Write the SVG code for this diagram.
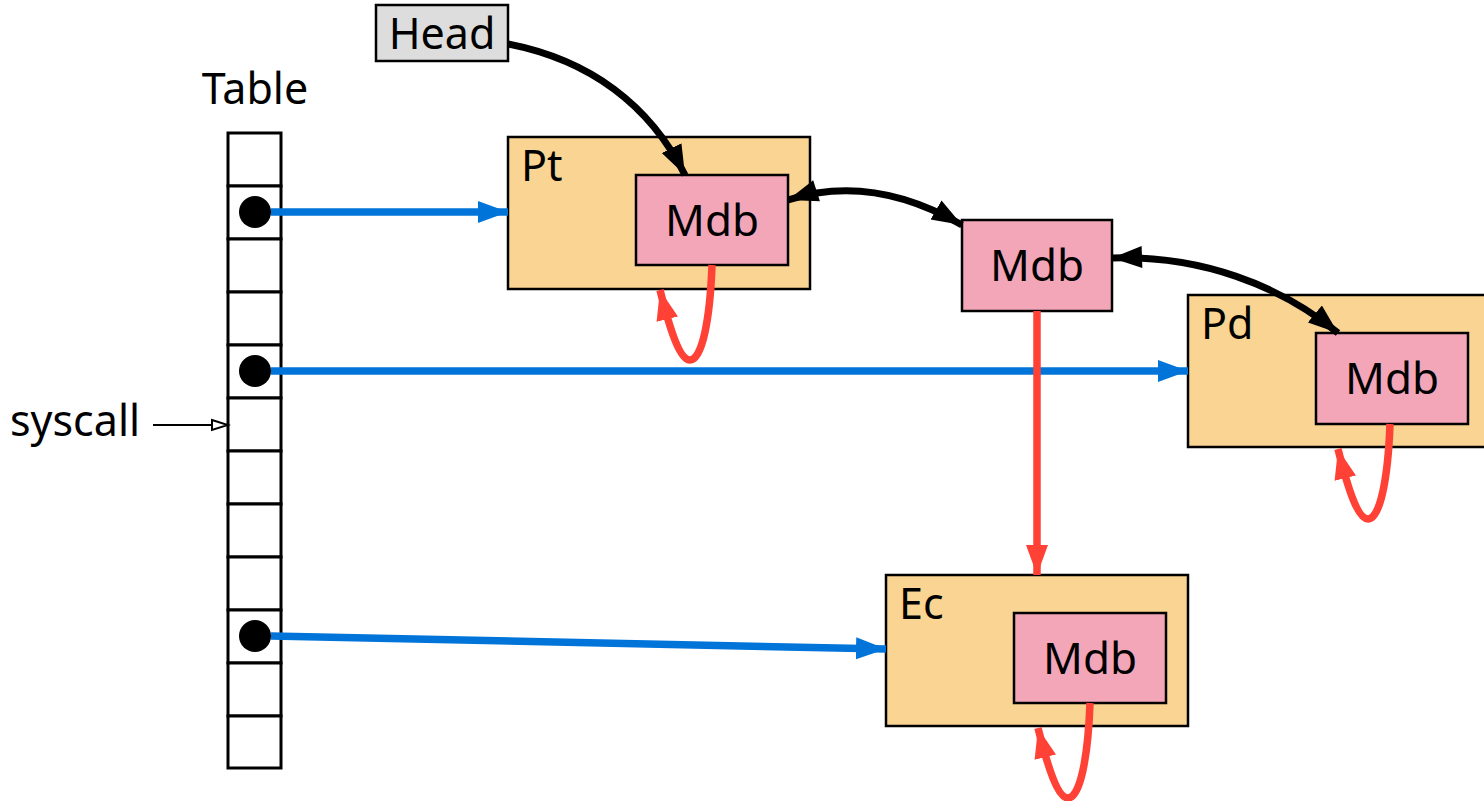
<svg xmlns="http://www.w3.org/2000/svg" width="1484" height="801" viewBox="0 0 1484 801">
<style>
text{font-family:"Noto Sans","Open Sans","DejaVu Sans",sans-serif;fill:#000}
.cell{fill:#fff;stroke:#000;stroke-width:3}
.box{fill:#f9d492;stroke:#000;stroke-width:2.5}
.mdb{fill:#f4a6b9;stroke:#000;stroke-width:2.5}
.lbl{font-size:43px}
.mt{font-size:44px;text-anchor:middle}
.blue{fill:none;stroke:#0074d9;stroke-width:7.5}
.red{fill:none;stroke:#ff4136;stroke-width:7.5}
.blk{fill:none;stroke:#000;stroke-width:7}
</style>
<defs>
<marker id="ab" markerUnits="userSpaceOnUse" markerWidth="32" markerHeight="24" refX="30" refY="12" orient="auto"><path d="M0,1 L30,12 L0,23 Z" fill="#0074d9"/></marker>
<marker id="ar" markerUnits="userSpaceOnUse" markerWidth="32" markerHeight="24" refX="30" refY="12" orient="auto"><path d="M0,1 L30,12 L0,23 Z" fill="#ff4136"/></marker>
<marker id="ak" markerUnits="userSpaceOnUse" markerWidth="32" markerHeight="24" refX="30" refY="12" orient="auto"><path d="M0,1 L30,12 L0,23 Z" fill="#000"/></marker>
<marker id="aks" markerUnits="userSpaceOnUse" markerWidth="32" markerHeight="24" refX="0" refY="12" orient="auto"><path d="M30,1 L0,12 L30,23 Z" fill="#000"/></marker>
<marker id="ao" markerUnits="userSpaceOnUse" markerWidth="20" markerHeight="14" refX="17" refY="7" orient="auto"><path d="M1,2 L17,7 L1,12 Z" fill="#fff" stroke="#000" stroke-width="2"/></marker>
</defs>

<g id="table">
<text class="lbl" x="255" y="104" text-anchor="middle">Table</text>
<rect class="cell" x="228" y="133" width="53" height="53"/>
<rect class="cell" x="228" y="186" width="53" height="53"/>
<rect class="cell" x="228" y="239" width="53" height="53"/>
<rect class="cell" x="228" y="292" width="53" height="53"/>
<rect class="cell" x="228" y="345" width="53" height="53"/>
<rect class="cell" x="228" y="398" width="53" height="53"/>
<rect class="cell" x="228" y="451" width="53" height="53"/>
<rect class="cell" x="228" y="504" width="53" height="53"/>
<rect class="cell" x="228" y="557" width="53" height="53"/>
<rect class="cell" x="228" y="610" width="53" height="53"/>
<rect class="cell" x="228" y="663" width="53" height="53"/>
<rect class="cell" x="228" y="716" width="53" height="52"/>
<circle cx="255" cy="212" r="16"/>
<circle cx="255" cy="371" r="16"/>
<circle cx="255" cy="636" r="16"/>
</g>

<g id="syscall">
<text class="lbl" x="10" y="436">syscall</text>
</g>

<g id="head">
<rect x="376" y="5" width="132" height="56" fill="#dddddd" stroke="#000" stroke-width="2.5"/>
<text class="lbl" x="442" y="49" text-anchor="middle">Head</text>
</g>

<g id="pt">
<rect class="box" x="508" y="137" width="302" height="152"/>
<text class="lbl" x="521" y="181">Pt</text>
<rect class="mdb" x="636" y="175" width="152" height="90"/>
<text class="mt" x="712" y="236">Mdb</text>
</g>

<g id="mid">
<rect class="mdb" x="962" y="220" width="150" height="91"/>
<text class="mt" x="1037" y="281">Mdb</text>
</g>

<g id="pd">
<rect class="box" x="1188" y="295" width="300" height="152"/>
<text class="lbl" x="1201" y="339">Pd</text>
<rect class="mdb" x="1316" y="333" width="152" height="91"/>
<text class="mt" x="1392" y="394">Mdb</text>
</g>

<g id="ec">
<rect class="box" x="886" y="575" width="302" height="151"/>
<text class="lbl" x="899" y="619">Ec</text>
<rect class="mdb" x="1014" y="613" width="152" height="90"/>
<text class="mt" x="1090" y="674">Mdb</text>
</g>

<g id="connectors">
<path d="M153,425 L228,425" fill="none" stroke="#000" stroke-width="2" marker-end="url(#ao)"/>
<path class="blue" d="M271,212 L508,212" marker-end="url(#ab)"/>
<path class="blue" d="M271,371 L1188,371" marker-end="url(#ab)"/>
<path class="blue" d="M271,636 L886,649" marker-end="url(#ab)"/>
<path class="blk" d="M508,44 C590,60 650,105 685,175" marker-end="url(#ak)"/>
<path class="blk" d="M788,200 C850,180 910,195 962,225" marker-start="url(#aks)" marker-end="url(#ak)"/>
<path class="blk" d="M1112,258 C1200,255 1280,285 1338,333" marker-start="url(#aks)" marker-end="url(#ak)"/>
<path class="red" d="M1037,311 L1037,575" marker-end="url(#ar)"/>
<path class="red" d="M712,265 C710,320 702,360 690,360 C680,360 670,330 660,290" marker-end="url(#ar)"/>
<path class="red" d="M1390,424 C1388,479 1380,519 1368,519 C1358,519 1348,489 1338,449" marker-end="url(#ar)"/>
<path class="red" d="M1090,703 C1088,758 1080,798 1068,798 C1058,798 1048,768 1038,728" marker-end="url(#ar)"/>
</g>
</svg>
